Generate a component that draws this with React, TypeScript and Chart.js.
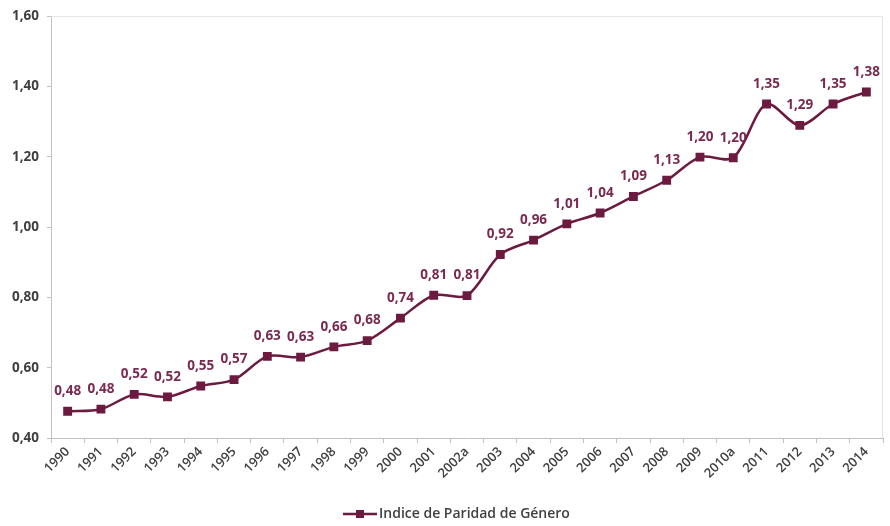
import React, { useEffect, useRef } from "react";
import { Chart, registerables } from "chart.js";

Chart.register(...registerables);

const categories = ["1990","1991","1992","1993","1994","1995","1996","1997","1998","1999","2000","2001","2002a","2003","2004","2005","2006","2007","2008","2009","2010a","2011","2012","2013","2014"];
const values = [0.476,0.482,0.524,0.517,0.548,0.566,0.632,0.630,0.659,0.677,0.741,0.806,0.805,0.922,0.963,1.009,1.040,1.087,1.133,1.199,1.197,1.350,1.289,1.350,1.384];
const seriesName = "Indice de Paridad de Género";
const yTicks = [0.4, 0.6, 0.8, 1.0, 1.2, 1.4, 1.6];

const LINE = "#6c1a3f";
const LABEL = "#7a2a50";
const TEXT = "#404040";
const FONT = "'Open Sans', 'DejaVu Sans', sans-serif";

const fmt = (v: number) => v.toFixed(2).replace(".", ",");

export default function App() {
  const ref = useRef<HTMLCanvasElement>(null);
  useEffect(() => {
    const canvas = ref.current!;
    const overlay = {
      id: "overlay",
      afterDatasetsDraw(chart: any) {
        const ctx = chart.ctx;
        const meta = chart.getDatasetMeta(0);
        ctx.save();
        ctx.font = `bold 13.5px ${FONT}`;
        ctx.fillStyle = LABEL;
        ctx.textAlign = "center";
        ctx.textBaseline = "middle";
        meta.data.forEach((pt: any, i: number) => {
          ctx.fillText(fmt(values[i]), pt.x, pt.y - 20);
        });
        ctx.restore();
      },
      afterDraw(chart: any) {
        const ctx = chart.ctx;
        const a = chart.chartArea;
        ctx.save();
        ctx.strokeStyle = "#e3e3e3";
        ctx.lineWidth = 1;
        ctx.beginPath();
        ctx.moveTo(a.left, a.top + 0.5);
        ctx.lineTo(a.right - 0.5, a.top + 0.5);
        ctx.lineTo(a.right - 0.5, a.bottom);
        ctx.stroke();
        // legend
        const y = 514;
        ctx.font = `600 14px ${FONT}`;
        const x0 = 343;
        ctx.strokeStyle = LINE;
        ctx.lineWidth = 2.5;
        ctx.beginPath();
        ctx.moveTo(x0, y);
        ctx.lineTo(x0 + 34, y);
        ctx.stroke();
        ctx.fillStyle = LINE;
        ctx.fillRect(x0 + 17 - 4, y - 4, 8, 8);
        ctx.fillStyle = TEXT;
        ctx.textAlign = "left";
        ctx.textBaseline = "middle";
        ctx.fillText(seriesName, x0 + 36, y);
        ctx.restore();
      },
    };
    const chart = new Chart(canvas, {
      type: "line",
      data: {
        labels: categories,
        datasets: [
          {
            label: seriesName,
            data: values,
            borderColor: LINE,
            backgroundColor: LINE,
            borderWidth: 2.5,
            pointStyle: "rect",
            pointRadius: 4.5,
            pointBackgroundColor: LINE,
            pointBorderColor: LINE,
            tension: 0.3,
          },
        ],
      },
      options: {
        animation: false,
        responsive: false,
        devicePixelRatio: 1,
        layout: { padding: { top: 13, right: 1, left: 0, bottom: 38 } },
        plugins: { legend: { display: false }, tooltip: { enabled: false } },
        scales: {
          x: {
            type: "category",
            offset: true,
            grid: { offset: true, drawOnChartArea: false, color: "#c0c0c0", tickLength: 5 },
            border: { color: "#c0c0c0", width: 1 },
            ticks: {
              color: TEXT,
              font: { family: FONT, size: 13, weight: "600" },
              minRotation: 45,
              maxRotation: 45,
              autoSkip: false,
              padding: 1,
            },
            afterFit: (s: any) => { s.height = 50; },
          },
          y: {
            min: 0.4,
            max: 1.6,
            afterBuildTicks: (s: any) => { s.ticks = yTicks.map((v) => ({ value: v })); },
            grid: { drawOnChartArea: false, color: "#c0c0c0", tickLength: 4 },
            border: { color: "#c0c0c0", width: 1 },
            ticks: {
              color: TEXT,
              font: { family: FONT, size: 13.5, weight: "bold" },
              padding: 8,
              callback: (v: any) => fmt(Number(v)),
            },
            afterFit: (s: any) => { s.width = 51; },
          },
        },
      },
      plugins: [overlay],
    });
    return () => chart.destroy();
  }, []);
  return (
    <div style={{ position: "fixed", left: 0, top: 0, width: 890, height: 526, background: "#fff" }}>
      <canvas ref={ref} width={890} height={526} style={{ display: "block" }} />
    </div>
  );
}
